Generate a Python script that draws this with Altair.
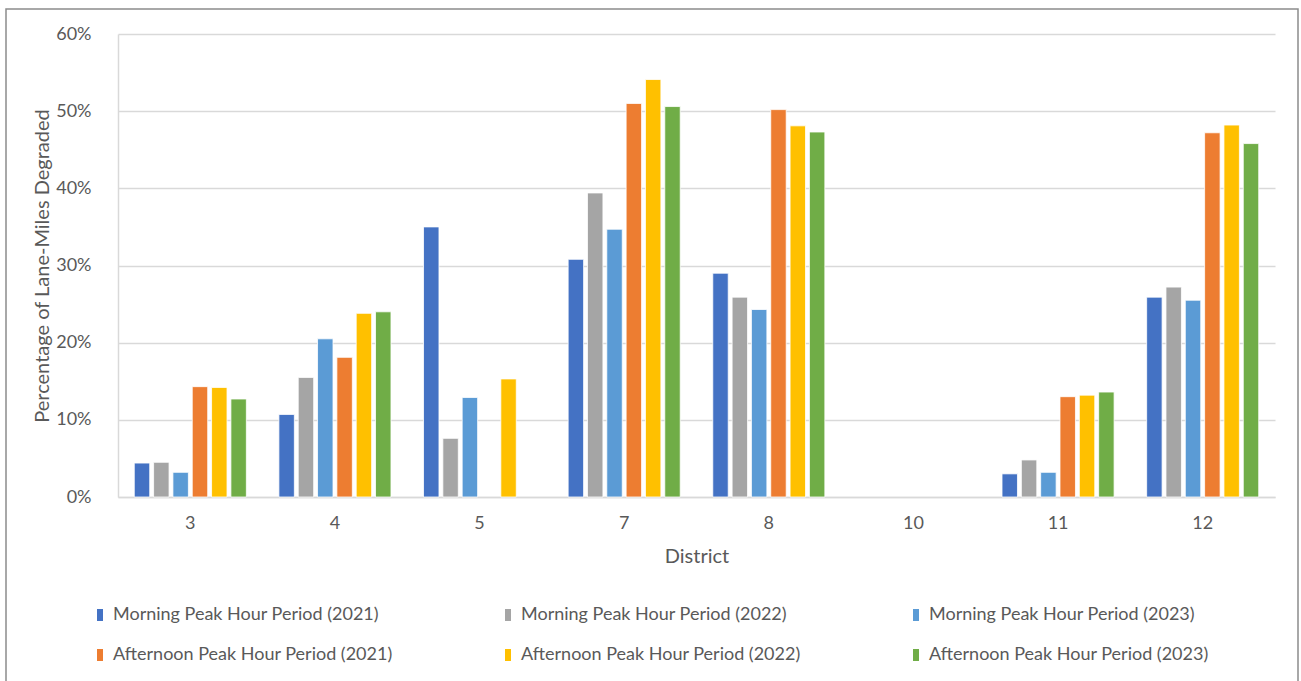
import altair as alt
import pandas as pd

# Districts shown on the category axis
districts = ["3", "4", "5", "7", "8", "10", "11", "12"]

# Share of lane-miles degraded (fraction) per district; None = no data reported
am_2021 = [0.044, 0.107, 0.350, 0.308, 0.290, None, 0.030, 0.259]
am_2022 = [0.045, 0.155, 0.076, 0.394, 0.259, None, 0.048, 0.272]
am_2023 = [0.032, 0.205, 0.129, 0.347, 0.243, None, 0.032, 0.255]
pm_2021 = [0.143, 0.181, None, 0.510, 0.502, None, 0.130, 0.472]
pm_2022 = [0.142, 0.238, 0.153, 0.541, 0.481, None, 0.132, 0.482]
pm_2023 = [0.127, 0.240, None, 0.506, 0.473, None, 0.136, 0.458]

series_names = [
    "Morning Peak Hour Period (2021)",
    "Morning Peak Hour Period (2022)",
    "Morning Peak Hour Period (2023)",
    "Afternoon Peak Hour Period (2021)",
    "Afternoon Peak Hour Period (2022)",
    "Afternoon Peak Hour Period (2023)",
]
series_values = [am_2021, am_2022, am_2023, pm_2021, pm_2022, pm_2023]
series_colors = ["#4472C4", "#A5A5A5", "#5B9BD5", "#ED7D31", "#FFC000", "#70AD47"]

rows = []
for name, vals in zip(series_names, series_values):
    for d, v in zip(districts, vals):
        rows.append({"District": d, "Series": name, "Value": v})
df = pd.DataFrame(rows)

FONT = "Lato"
TEXT = "#595959"
GRID = "#D9D9D9"
W, H = 1157, 463

bars = alt.Chart(df).mark_bar(stroke="white", strokeWidth=0.8).encode(
    x=alt.X(
        "District:N",
        scale=alt.Scale(domain=districts, paddingInner=0.225, paddingOuter=0.1125),
        axis=alt.Axis(
            title="District",
            labelAngle=0,
            labelFontSize=18,
            labelPadding=17,
            ticks=False,
            domainColor=GRID,
            domainWidth=1.5,
            titleFontSize=20,
            titleFontWeight="normal",
            titlePadding=14,
        ),
    ),
    xOffset=alt.XOffset(
        "Series:N",
        sort=series_names,
        scale=alt.Scale(paddingInner=0.2, paddingOuter=0),
    ),
    y=alt.Y(
        "Value:Q",
        scale=alt.Scale(domain=[0, 0.6]),
        axis=alt.Axis(
            title="Percentage of Lane-Miles Degraded",
            format=".0%",
            values=[0, 0.1, 0.2, 0.3, 0.4, 0.5, 0.6],
            labelFontSize=18,
            labelPadding=27,
            ticks=False,
            domainColor=GRID,
            domainWidth=1.5,
            gridColor=GRID,
            gridWidth=1.5,
            titleFontSize=20,
            titleFontWeight="normal",
            titleX=-76,
            titleY=H / 2,
            titleAlign="center",
            titleBaseline="middle",
        ),
    ),
    color=alt.Color(
        "Series:N",
        sort=series_names,
        scale=alt.Scale(domain=series_names, range=series_colors),
        legend=alt.Legend(
            title=None,
            orient="none",
            legendX=-27,
            legendY=572,
            columns=3,
            direction="horizontal",
            gridAlign="all",
            columnPadding=106,
            rowPadding=22,
            symbolType="M-0.5,-1H0.5V1H-0.5Z",
            symbolSize=144,
            symbolStrokeWidth=0,
            symbolOpacity=1,
            labelFontSize=18,
            labelOffset=4,
            labelLimit=400,
        ),
    ),
)

# Thin grey frame around the whole figure
frame = alt.Chart(pd.DataFrame({"k": [0]})).mark_rect(
    fill=None, stroke="#8C8C8C", strokeWidth=1.5, clip=False
).encode(
    x=alt.value(-112), x2=alt.value(1180), y=alt.value(-25), y2=alt.value(660)
)

chart = (
    alt.layer(frame, bars)
    .properties(
        width=W,
        height=H,
        autosize=alt.AutoSizeParams(type="none"),
        padding={"left": 118, "top": 34, "right": 26, "bottom": 184},
    )
    .configure(font=FONT, background="white")
    .configure_view(stroke=None)
    .configure_axis(labelColor=TEXT, titleColor=TEXT, labelFont=FONT, titleFont=FONT)
    .configure_legend(labelColor=TEXT, labelFont=FONT)
)

chart.save("out.html", embed_options={"renderer": "svg", "actions": False})
